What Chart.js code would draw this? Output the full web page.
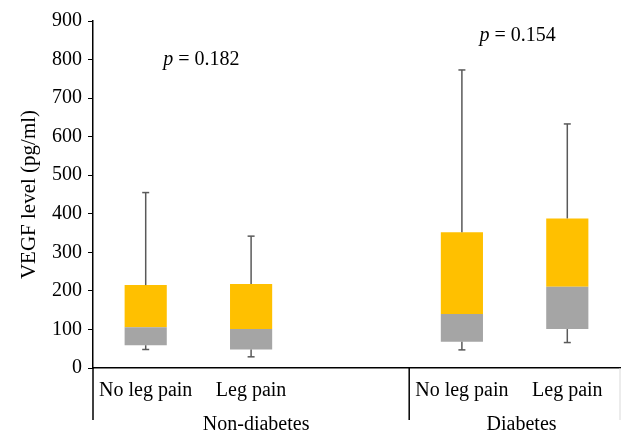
<!DOCTYPE html>
<html>
<head>
<meta charset="utf-8">
<script src="https://cdn.jsdelivr.net/npm/chart.js@4"></script>
<style>
  html, body { margin: 0; padding: 0; background: #fff; }
  #wrap { width: 634px; height: 444px; }
</style>
</head>
<body>
<div id="wrap"><canvas id="vegf_chart"></canvas></div>
<script>
// categories (blank slot separates the two groups)
const categories = ["No leg pain", "Leg pain", "", "No leg pain", "Leg pain"];
const groups = ["Non-diabetes", "Diabetes"];
const pValues = ["0.182", "0.154"];
const yTicks = [0, 100, 200, 300, 400, 500, 600, 700, 800, 900];

// box plot values (pg/ml)
const minVals    = [48, 29, null, 47, 66];
const q1Vals     = [59, 48, null, 68, 101];
const medianVals = [106, 101, null, 140, 211];
const q3Vals     = [215, 218, null, 352, 388];
const maxVals    = [455, 342, null, 773, 633];

const FONT = "'Liberation Serif', 'DejaVu Serif', serif";

const lowerBox = categories.map((c, i) => q1Vals[i] == null ? null : [q1Vals[i], medianVals[i]]);
const upperBox = categories.map((c, i) => q3Vals[i] == null ? null : [medianVals[i], q3Vals[i]]);

const extras = {
    id: "extras",
    afterDatasetsDraw(chart) {
        const ctx = chart.ctx;
        const x = chart.scales.x;
        const y = chart.scales.y;
        ctx.save();

        // whiskers
        ctx.strokeStyle = "#595959";
        ctx.lineWidth = 1.5;
        categories.forEach((c, i) => {
            if (minVals[i] == null) return;
            const px = x.getPixelForValue(i);
            const segs = [[minVals[i], q1Vals[i]], [q3Vals[i], maxVals[i]]];
            segs.forEach(s => {
                ctx.beginPath();
                ctx.moveTo(px, y.getPixelForValue(s[0]));
                ctx.lineTo(px, y.getPixelForValue(s[1]));
                ctx.stroke();
            });
            [minVals[i], maxVals[i]].forEach(v => {
                const py = y.getPixelForValue(v);
                ctx.beginPath();
                ctx.moveTo(px - 3.5, py);
                ctx.lineTo(px + 3.5, py);
                ctx.stroke();
            });
        });

        // group separators below the axis
        const bottom = chart.chartArea.bottom;
        const half = (x.getPixelForValue(1) - x.getPixelForValue(0)) / 2;
        ctx.lineWidth = 1.5;
        ctx.strokeStyle = "#000";
        [x.getPixelForValue(0) - half, x.getPixelForValue(3) - half].forEach(px => {
            ctx.beginPath();
            ctx.moveTo(px, bottom);
            ctx.lineTo(px, bottom + 52);
            ctx.stroke();
        });
        ctx.strokeStyle = "#d9d9d9";
        ctx.lineWidth = 1;
        const rx = x.getPixelForValue(4) + half;
        ctx.beginPath();
        ctx.moveTo(rx, bottom);
        ctx.lineTo(rx, bottom + 52);
        ctx.stroke();

        // group labels
        ctx.fillStyle = "#000";
        ctx.font = "20px " + FONT;
        ctx.textAlign = "center";
        ctx.textBaseline = "middle";
        ctx.fillText(groups[0], x.getPixelForValue(1) + 5, bottom + 57);
        ctx.fillText(groups[1], (x.getPixelForValue(3) + x.getPixelForValue(4)) / 2 + 7, bottom + 57);

        // p values
        const pPos = [[0.5, 800], [3.5, 862]];
        pPos.forEach((p, k) => {
            const cx = x.getPixelForValue(p[0]) + 3;
            const cy = y.getPixelForValue(p[1]);
            const rest = " = " + pValues[k];
            ctx.font = "italic 20px " + FONT;
            const w1 = ctx.measureText("p").width;
            ctx.font = "20px " + FONT;
            const w2 = ctx.measureText(rest).width;
            const start = cx - (w1 + w2) / 2;
            ctx.textAlign = "left";
            ctx.font = "italic 20px " + FONT;
            ctx.fillText("p", start, cy);
            ctx.font = "20px " + FONT;
            ctx.fillText(rest, start + w1, cy);
        });
        ctx.restore();
    }
};

const chart_ctx = document.getElementById("vegf_chart");
const vegf_chart = new Chart(chart_ctx, {
    type: "bar",
    data: {
        labels: categories,
        datasets: [{
            label: "Q1-median",
            data: lowerBox,
            backgroundColor: "#a5a5a5",
            grouped: false,
            barPercentage: 0.4,
            categoryPercentage: 1.0
        }, {
            label: "median-Q3",
            data: upperBox,
            backgroundColor: "#ffc000",
            grouped: false,
            barPercentage: 0.4,
            categoryPercentage: 1.0
        }]
    },
    options: {
        responsive: true,
        maintainAspectRatio: false,
        animation: false,
        layout: {
            padding: { top: 21, right: 14, left: 17, bottom: 0 }
        },
        plugins: {
            legend: { display: false },
            tooltip: { enabled: false }
        },
        scales: {
            x: {
                grid: { display: false },
                border: { color: "#000", width: 1.5 },
                ticks: {
                    color: "#000",
                    font: { family: FONT, size: 20 },
                    maxRotation: 0,
                    autoSkip: false,
                    padding: 3
                },
                afterFit(scale) { scale.height = 76; }
            },
            y: {
                min: 0,
                max: 900,
                afterBuildTicks(scale) { scale.ticks = yTicks.map(v => ({ value: v })); },
                grid: {
                    drawOnChartArea: false,
                    tickLength: 5,
                    color: "#000"
                },
                border: { color: "#000", width: 1.5 },
                ticks: {
                    color: "#000",
                    font: { family: FONT, size: 20 },
                    padding: 6
                },
                title: {
                    display: true,
                    text: "VEGF level (pg/ml)",
                    color: "#000",
                    font: { family: FONT, size: 21 },
                    padding: 0
                },
                afterFit(scale) { scale.width = 76; }
            }
        }
    },
    plugins: [extras]
});
</script>
</body>
</html>
